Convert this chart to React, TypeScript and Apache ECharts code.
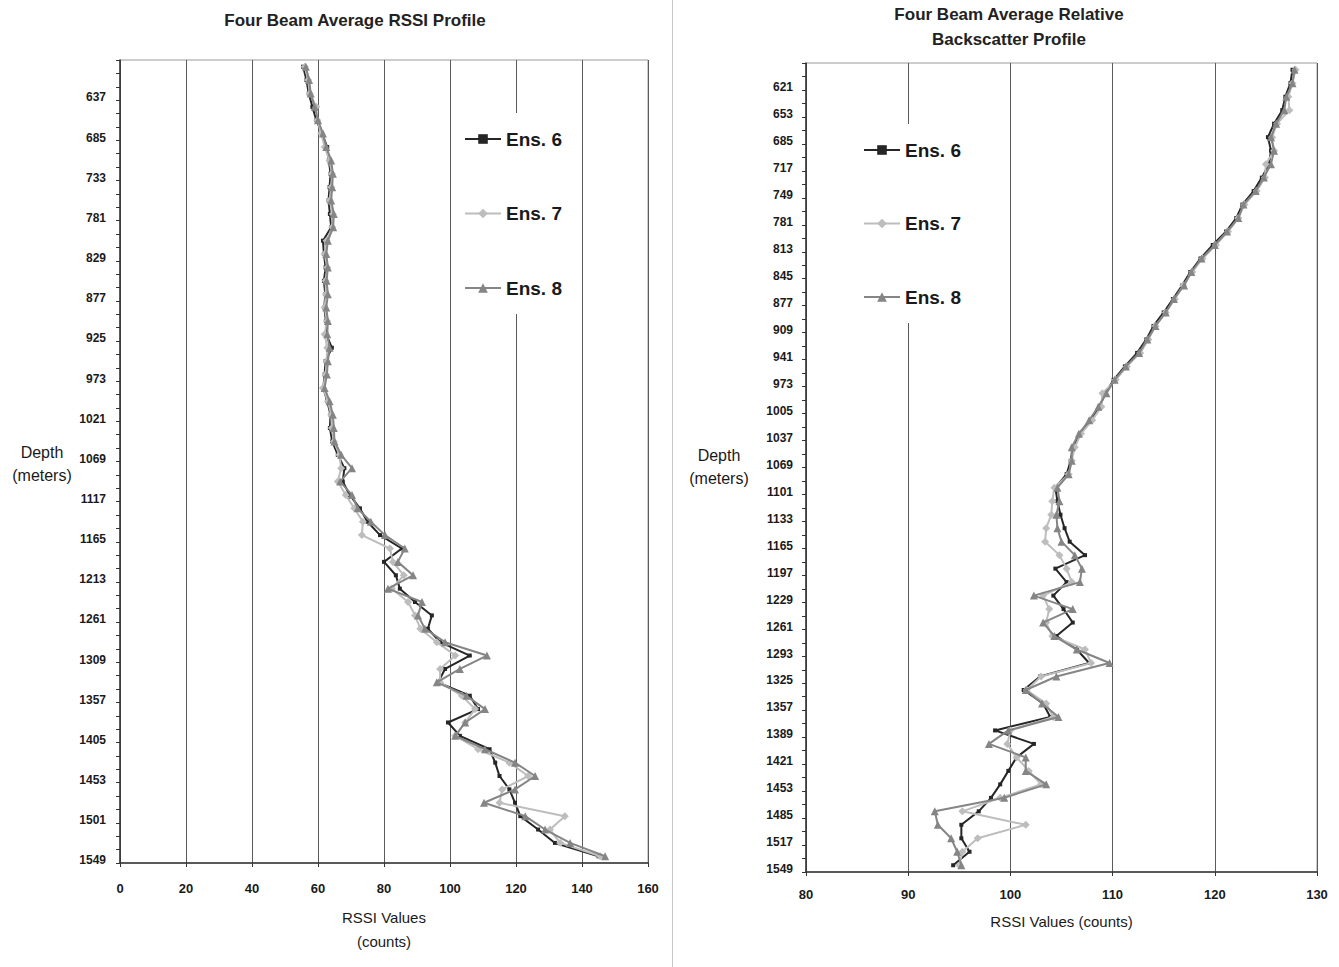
import React, { useEffect, useRef } from "react";
import * as echarts from "echarts";

// Depth bins (meters), 16 m cells
const depths = [
  605, 621, 637, 653, 669, 685, 701, 717, 733, 749, 765, 781, 797, 813, 829,
  845, 861, 877, 893, 909, 925, 941, 957, 973, 989, 1005, 1021, 1037, 1053, 1069,
  1085, 1101, 1117, 1133, 1149, 1165, 1181, 1197, 1213, 1229, 1245, 1261, 1277, 1293, 1309,
  1325, 1341, 1357, 1373, 1389, 1405, 1421, 1437, 1453, 1469, 1485, 1501, 1517, 1533, 1549,
];

const seriesNames = ["Ens. 6", "Ens. 7", "Ens. 8"];

// Left panel: Four Beam Average RSSI (counts)
const rssiEns6 = [
  55.5, 56.5, 57.2, 58.3, 59.5, 61.2, 62.8, 63.3, 63.8, 63.5, 63.2, 63.6, 64.0, 61.5, 61.8,
  62.3, 61.8, 62.2, 61.9, 62.4, 62.5, 64.2, 62.3, 62.0, 61.6, 62.8, 63.8, 63.6, 64.3, 66.0,
  68.0, 67.5, 69.6, 72.7, 75.0, 78.8, 85.4, 80.0, 83.6, 84.8, 89.4, 94.5, 93.3, 97.0, 106.0,
  98.5, 96.4, 106.0, 108.5, 99.4, 103.0, 112.0, 113.7, 115.0, 118.0, 119.7, 121.3, 126.7, 131.8, 145.0,
];
const rssiEns7 = [
  56.0, 57.0, 57.5, 59.5, 59.8, 61.0, 62.0, 63.5, 64.2, 64.0, 63.5, 64.5, 64.3, 62.6, 62.0,
  62.8, 62.3, 62.4, 62.0, 62.7, 62.0, 62.8, 62.6, 62.3, 61.5, 63.0, 64.0, 64.2, 64.8, 66.5,
  67.0, 66.0, 68.4, 71.0, 73.6, 73.3, 81.8, 82.7, 86.0, 82.4, 87.3, 89.4, 91.0, 96.0, 101.6,
  97.0, 97.0, 103.6, 107.6, 104.6, 101.6, 108.5, 118.0, 123.7, 115.8, 115.0, 134.8, 130.3, 133.4, 145.5,
];
const rssiEns8 = [
  56.3, 57.3, 57.8, 59.0, 60.0, 61.5, 62.5, 64.0, 64.5, 64.3, 64.0, 64.8, 64.6, 63.0, 62.5,
  63.0, 62.6, 63.0, 62.5, 63.0, 62.8, 63.5, 63.0, 62.7, 62.0, 63.5, 64.5, 64.8, 65.0, 67.0,
  70.3, 66.7, 70.3, 72.0, 76.0, 80.3, 86.3, 84.2, 88.8, 81.2, 91.5, 90.3, 92.4, 98.5, 111.2,
  103.0, 96.0, 105.0, 110.6, 104.6, 101.6, 110.6, 119.7, 125.8, 119.7, 110.3, 122.8, 128.8, 136.4, 147.0,
];

// Right panel: Four Beam Average Relative Backscatter
const backEns6 = [
  127.6, 127.4, 126.9, 126.6, 125.8, 125.2, 125.5, 125.3, 124.6, 123.8, 122.7, 122.1, 121.1, 119.8, 118.6,
  117.6, 116.8, 115.9, 115.0, 114.0, 113.3, 112.4, 111.2, 110.1, 109.3, 108.7, 107.8, 106.8, 106.1, 105.9,
  105.5, 104.4, 104.6, 104.9, 105.3, 105.8, 107.3, 104.4, 105.5, 104.2, 105.2, 106.1, 104.5, 106.5, 107.7,
  102.9, 101.3, 103.2, 103.9, 98.5, 102.3, 100.6, 99.8, 99.0, 98.1, 96.9, 95.2, 95.2, 96.0, 94.4,
];
const backEns7 = [
  127.9, 127.6, 127.2, 127.3, 126.1, 125.6, 125.8, 125.0, 124.9, 124.1, 122.9, 122.3, 121.3, 120.1, 118.8,
  117.8, 116.9, 116.1, 115.2, 114.2, 113.5, 112.7, 111.4, 110.3, 109.0, 108.9, 108.0, 106.9, 106.3, 106.0,
  105.7, 104.3, 104.1, 104.0, 103.5, 103.4, 104.8, 105.5, 106.0, 103.2, 103.8, 103.5, 104.1, 107.3, 107.9,
  103.0, 101.6, 103.5, 104.2, 100.0, 99.7, 100.6, 101.8, 103.0, 99.0, 95.3, 101.5, 96.8, 95.3, 95.0,
];
const backEns8 = [
  127.8, 127.6, 127.0, 126.8, 126.0, 125.5, 125.8, 125.5, 124.8, 124.0, 122.8, 122.3, 121.2, 120.0, 118.7,
  117.7, 117.0, 116.0, 115.2, 114.2, 113.4, 112.6, 111.3, 110.2, 109.4, 108.6, 107.7, 106.7, 106.0, 106.0,
  105.7, 104.6, 104.8, 104.5, 104.6, 105.0, 106.3, 107.0, 106.8, 102.3, 106.1, 103.2, 104.3, 106.5, 109.7,
  104.5, 101.5, 103.1, 104.7, 99.8, 97.9, 101.5, 101.5, 103.5, 99.4, 92.6, 92.9, 94.2, 94.8, 95.2,
];

const FONT = "'Liberation Sans', Arial, sans-serif";
const TXT = "#1a1a1a";

const seriesStyles = [
  { color: "#262626", symbol: "rect", symbolSize: 4 },
  { color: "#bdbdbd", symbol: "diamond", symbolSize: 8 },
  { color: "#858585", symbol: "triangle", symbolSize: 8 },
];

function makeSeries(values: number[][], axisIndex: number) {
  return values.map((vals, k) => ({
    name: seriesNames[k],
    type: "line",
    xAxisIndex: axisIndex,
    yAxisIndex: axisIndex,
    data: vals,
    symbol: seriesStyles[k].symbol,
    symbolSize: seriesStyles[k].symbolSize,
    showSymbol: true,
    lineStyle: { color: seriesStyles[k].color, width: 2 },
    itemStyle: { color: seriesStyles[k].color, borderWidth: 0 },
    z: 3 + k,
  }));
}

export default function App() {
  const ref = useRef<HTMLDivElement>(null);

  useEffect(() => {
    if (!ref.current) return;
    const chart = echarts.init(ref.current, undefined, { renderer: "svg" });

    const yAxisCommon = (labelFn: (i: number) => boolean, gridIndex: number, margin: number) => ({
      type: "category",
      gridIndex,
      data: depths,
      inverse: true,
      boundaryGap: true,
      axisLine: { show: true, lineStyle: { color: "#333", width: 1.5 } },
      axisTick: { show: true, interval: 0, length: 4, lineStyle: { color: "#333" } },
      axisLabel: {
        interval: (i: number) => labelFn(i),
        margin,
        verticalAlign: "top",
        lineHeight: 8,
        color: TXT,
        fontFamily: FONT,
        fontSize: 12,
        fontWeight: "bold",
      },
      splitLine: { show: false },
    });

    const xAxisCommon = (min: number, max: number, interval: number, gridIndex: number, name: string, nameGap: number, margin: number) => ({
      type: "value",
      gridIndex,
      min,
      max,
      interval,
      name,
      nameLocation: "middle",
      nameGap,
      nameTextStyle: { color: TXT, fontFamily: FONT, fontSize: 15, lineHeight: 24 },
      axisLine: { show: true, onZero: false, lineStyle: { color: "#333", width: 1.5 } },
      axisTick: { show: true, length: 4, lineStyle: { color: "#333" } },
      axisLabel: { color: TXT, fontFamily: FONT, fontSize: 13, fontWeight: "bold", margin },
      splitLine: { show: true, lineStyle: { color: "#5a5a5a", width: 1 } },
    });

    const legendCommon = (left: number, top: number, gap: number) => ({
      orient: "vertical",
      left,
      top,
      data: seriesNames,
      itemWidth: 36,
      itemHeight: 12,
      itemGap: gap,
      padding: [16, 8],
      backgroundColor: "#ffffff",
      textStyle: { color: TXT, fontFamily: FONT, fontSize: 19, fontWeight: "bold", lineHeight: 20 },
      selectedMode: false,
      z: 10,
    });

    const depthLabel = (cx: number, top: number) => ({
      type: "text",
      x: cx,
      y: top,
      style: {
        text: "Depth\n(meters)",
        font: `16px ${FONT}`,
        fill: TXT,
        align: "center",
        verticalAlign: "top",
        lineHeight: 23,
      },
    });

    chart.setOption({
      animation: false,
      backgroundColor: "#ffffff",
      title: [
        {
          text: "Four Beam Average RSSI Profile",
          left: 350,
          top: 7,
          textAlign: "center",
          textStyle: { color: "#222", fontFamily: FONT, fontSize: 17, fontWeight: "bold" },
        },
        {
          text: "Four Beam Average Relative\nBackscatter Profile",
          left: 1004,
          top: -3,
          textAlign: "center",
          textStyle: { color: "#222", fontFamily: FONT, fontSize: 17, fontWeight: "bold", lineHeight: 25 },
        },
      ],
      legend: [legendCommon(456, 113, 54.5), legendCommon(855, 124, 53.5)],
      grid: [
        { left: 120, top: 60, width: 528, height: 803, show: true, borderColor: "#9a9a9a", borderWidth: 1, containLabel: false },
        { left: 806, top: 63, width: 511, height: 809, show: true, borderColor: "#9a9a9a", borderWidth: 1, containLabel: false },
      ],
      xAxis: [
        xAxisCommon(0, 160, 20, 0, "RSSI Values\n(counts)", 42, 19),
        xAxisCommon(80, 130, 10, 1, "RSSI Values (counts)", 37, 16),
      ],
      yAxis: [
        yAxisCommon((i) => (i - 2) % 3 === 0, 0, 14),
        yAxisCommon((i) => (i - 1) % 2 === 0, 1, 13),
      ],
      series: [
        ...makeSeries([rssiEns6, rssiEns7, rssiEns8], 0),
        ...makeSeries([backEns6, backEns7, backEns8], 1),
      ],
      graphic: [
        {
          type: "line",
          shape: { x1: 672.5, y1: 0, x2: 672.5, y2: 967 },
          style: { stroke: "#c8c8c8", lineWidth: 1 },
        },
        depthLabel(42, 441),
        depthLabel(719, 444),
      ],
    });

    return () => chart.dispose();
  }, []);

  return (
    <div
      ref={ref}
      style={{ position: "absolute", left: 0, top: 0, width: 1339, height: 967, background: "#fff" }}
    />
  );
}
